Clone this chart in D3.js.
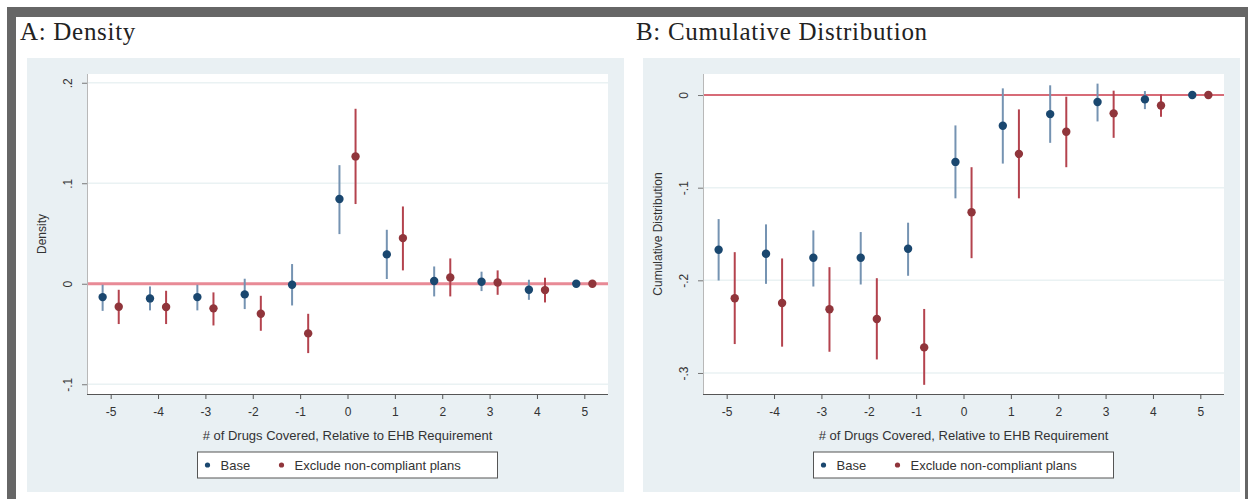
<!DOCTYPE html>
<html lang="en">
<head>
<meta charset="UTF-8">
<script src="https://cdn.jsdelivr.net/npm/d3@7"></script>
<style>
  body { margin: 0; background: #fff; }
  svg { display: block; }
</style>
</head>
<body>
<script>
// ---------------- data ----------------
const xValues = [-5, -4, -3, -2, -1, 0, 1, 2, 3, 4, 5];
const xTicks = [-5, -4, -3, -2, -1, 0, 1, 2, 3, 4, 5];

// Panel A: density
const densityBase   = [-0.0133, -0.0146, -0.0133, -0.0106, -0.0010, 0.0843, 0.0292, 0.0027, 0.0020, -0.0060, 0.0000];
const densityBaseLo = [-0.0270, -0.0265, -0.0265, -0.0252, -0.0216, 0.0494, 0.0047, -0.0126, -0.0073, -0.0160, -0.0010];
const densityBaseHi = [-0.0010, -0.0027, -0.0010, 0.0050, 0.0196, 0.1180, 0.0537, 0.0172, 0.0120, 0.0040, 0.0010];
const densityExcl   = [-0.0229, -0.0232, -0.0245, -0.0299, -0.0494, 0.1267, 0.0454, 0.0063, 0.0013, -0.0063, 0.0000];
const densityExclLo = [-0.0401, -0.0401, -0.0415, -0.0468, -0.0690, 0.0793, 0.0133, -0.0126, -0.0110, -0.0186, -0.0010];
const densityExclHi = [-0.0060, -0.0070, -0.0086, -0.0120, -0.0299, 0.1741, 0.0769, 0.0252, 0.0133, 0.0060, 0.0010];
const densityTicks = [-0.1, 0, 0.1, 0.2];

// Panel B: cumulative distribution
const cdfBase   = [-0.1670, -0.1713, -0.1757, -0.1757, -0.1659, -0.0722, -0.0332, -0.0206, -0.0076, -0.0047, 0.0000];
const cdfBaseLo = [-0.2002, -0.2038, -0.2067, -0.2045, -0.1951, -0.1115, -0.0740, -0.0516, -0.0285, -0.0152, -0.0010];
const cdfBaseHi = [-0.1339, -0.1396, -0.1461, -0.1479, -0.1378, -0.0328, 0.0072, 0.0105, 0.0123, 0.0043, 0.0010];
const cdfExcl   = [-0.2193, -0.2244, -0.2312, -0.2417, -0.2724, -0.1266, -0.0635, -0.0397, -0.0198, -0.0112, 0.0000];
const cdfExclLo = [-0.2688, -0.2716, -0.2771, -0.2854, -0.3128, -0.1761, -0.1115, -0.0779, -0.0462, -0.0235, -0.0010];
const cdfExclHi = [-0.1696, -0.1764, -0.1858, -0.1977, -0.2309, -0.0779, -0.0155, -0.0018, 0.0047, 0.0007, 0.0010];
const cdfTicks = [-0.3, -0.2, -0.1, 0];

const seriesNames = ["Base", "Exclude non-compliant plans"];
const xTitle = "# of Drugs Covered, Relative to EHB Requirement";

// ---------------- styling ----------------
const W = 1248, H = 499;
const navy = "#1a476f", maroon = "#90353b";
const navyCI = "#7593b2", maroonCI = "#b4434e";
const regionFill = "#e9f0f3";
const sans = "'Liberation Sans', Arial, sans-serif";
const serif = "'Liberation Serif', 'Times New Roman', serif";

const svg = d3.select("body").append("svg")
  .attr("width", W).attr("height", H);

// outer frame
svg.append("rect").attr("x", 7).attr("y", 7).attr("width", W).attr("height", H).attr("fill", "#666");
svg.append("rect").attr("x", 16).attr("y", 17).attr("width", 1229).attr("height", H).attr("fill", "#fff");

// Stata-style labels: ".2", "-.1", plain hyphen minus
const stataFmt = d => d === 0 ? "0" : d3.format(".1f")(d).replace("0.", ".").replace("\u2212", "-");
const intFmt = d => String(d);

function drawPanel(opt) {
  const g = svg.append("g");

  g.append("text")
    .attr("x", opt.titleX).attr("y", 40)
    .attr("font-family", serif).attr("font-size", 25)
    .attr("letter-spacing", 0.7)
    .attr("fill", "#222")
    .text(opt.title);

  // graph region
  g.append("rect")
    .attr("x", opt.regionX).attr("y", 58)
    .attr("width", opt.regionW).attr("height", 434)
    .attr("fill", regionFill);

  const x = d3.scaleLinear().domain([-5.5, 5.5]).range([opt.plotL, opt.plotR]);
  const y = d3.scaleLinear().domain(opt.yDomain).range([394, 74]);

  // plot region
  g.append("rect")
    .attr("x", opt.plotL).attr("y", 74)
    .attr("width", opt.plotR - opt.plotL).attr("height", 320)
    .attr("fill", "#fff");

  // gridlines
  g.append("g").selectAll("line")
    .data(opt.yTicks).join("line")
    .attr("x1", opt.plotL).attr("x2", opt.plotR)
    .attr("y1", d => y(d)).attr("y2", d => y(d))
    .attr("stroke", "#eaf2f3").attr("stroke-width", 1.5);

  // y axis
  const yAxis = g.append("g")
    .attr("transform", `translate(${opt.plotL},0)`)
    .call(d3.axisLeft(y).tickValues(opt.yTicks).tickSize(5).tickFormat(stataFmt));
  yAxis.select(".domain").attr("stroke", "#b8b8b8").attr("d", `M0.5,74V394`);
  yAxis.selectAll(".tick line").attr("stroke", "#777");
  yAxis.selectAll(".tick text")
    .attr("font-family", sans).attr("font-size", 12).attr("fill", "#333")
    .attr("transform", "rotate(-90)")
    .attr("x", 0).attr("y", -15).attr("dy", 0)
    .attr("text-anchor", "middle");

  // x axis
  const xAxis = g.append("g")
    .attr("transform", "translate(0,394)")
    .call(d3.axisBottom(x).tickValues(xTicks).tickSize(5).tickFormat(intFmt));
  xAxis.select(".domain").attr("stroke", "#555").attr("d", `M${opt.plotL},0.5H${opt.plotR}`);
  xAxis.selectAll(".tick line").attr("stroke", "#555");
  xAxis.selectAll(".tick text")
    .attr("font-family", sans).attr("font-size", 12).attr("fill", "#333")
    .attr("y", 22).attr("dy", 0);

  // axis titles
  g.append("text")
    .attr("transform", `translate(${opt.plotL - 41},${(74 + 394) / 2}) rotate(-90)`)
    .attr("text-anchor", "middle")
    .attr("font-family", sans).attr("font-size", 12).attr("fill", "#333")
    .text(opt.yTitle);
  const cx = (opt.plotL + opt.plotR) / 2;
  g.append("text")
    .attr("x", cx).attr("y", 440)
    .attr("text-anchor", "middle")
    .attr("font-family", sans).attr("font-size", 13).attr("fill", "#333")
    .text(xTitle);

  // zero reference line
  g.append("line")
    .attr("x1", opt.plotL + 1).attr("x2", opt.plotR)
    .attr("y1", y(0)).attr("y2", y(0))
    .attr("stroke", opt.zeroColor).attr("stroke-width", opt.zeroWidth);

  const off = 0.17;
  const series = [
    { v: opt.base, lo: opt.baseLo, hi: opt.baseHi, dx: -off, c: navy, ci: navyCI },
    { v: opt.excl, lo: opt.exclLo, hi: opt.exclHi, dx: off, c: maroon, ci: maroonCI }
  ];
  series.forEach(s => {
    const pts = xValues.map((xv, i) => ({ x: xv + s.dx, v: s.v[i], lo: s.lo[i], hi: s.hi[i] }));
    g.append("g").selectAll("line")
      .data(pts).join("line")
      .attr("x1", d => x(d.x)).attr("x2", d => x(d.x))
      .attr("y1", d => y(d.lo)).attr("y2", d => y(d.hi))
      .attr("stroke", s.ci).attr("stroke-width", 2);
  });
  series.forEach(s => {
    const pts = xValues.map((xv, i) => ({ x: xv + s.dx, v: s.v[i] }));
    g.append("g").selectAll("circle")
      .data(pts).join("circle")
      .attr("cx", d => x(d.x)).attr("cy", d => y(d.v))
      .attr("r", 4.2).attr("fill", s.c);
  });

  // legend
  const lg = g.append("g").attr("transform", `translate(${cx - 150},452)`);
  lg.append("rect").attr("width", 300).attr("height", 26)
    .attr("fill", "#fff").attr("stroke", "#555").attr("stroke-width", 1);
  const items = [
    { name: seriesNames[0], c: navy, dx: 10 },
    { name: seriesNames[1], c: maroon, dx: 84 }
  ];
  items.forEach(it => {
    lg.append("circle").attr("cx", it.dx).attr("cy", 13).attr("r", 2.6).attr("fill", it.c);
    lg.append("text").attr("x", it.dx + 13).attr("y", 18)
      .attr("font-family", sans).attr("font-size", 13).attr("fill", "#333")
      .text(it.name);
  });
}

drawPanel({
  title: "A: Density", titleX: 20,
  regionX: 27, regionW: 597,
  plotL: 87, plotR: 608,
  yDomain: [-0.1097, 0.2087], yTicks: densityTicks, yTitle: "Density",
  base: densityBase, baseLo: densityBaseLo, baseHi: densityBaseHi,
  excl: densityExcl, exclLo: densityExclLo, exclHi: densityExclHi,
  zeroColor: "#e88a96", zeroWidth: 3
});

drawPanel({
  title: "B: Cumulative Distribution", titleX: 636,
  regionX: 643, regionW: 597,
  plotL: 703, plotR: 1224,
  yDomain: [-0.3227, 0.0227], yTicks: cdfTicks, yTitle: "Cumulative Distribution",
  base: cdfBase, baseLo: cdfBaseLo, baseHi: cdfBaseHi,
  excl: cdfExcl, exclLo: cdfExclLo, exclHi: cdfExclHi,
  zeroColor: "#cf3c4c", zeroWidth: 1.5
});
</script>
</body>
</html>
